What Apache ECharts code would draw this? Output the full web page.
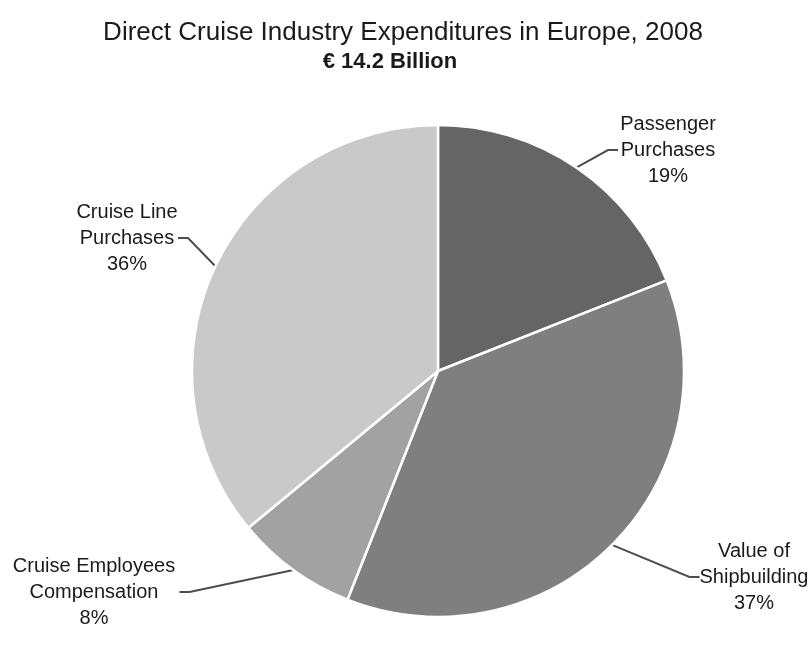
<!DOCTYPE html>
<html>
<head>
<meta charset="utf-8">
<script src="https://cdn.jsdelivr.net/npm/echarts@6/dist/echarts.min.js"></script>
<style>
  html, body { margin: 0; padding: 0; background: #ffffff; }
  #chart { width: 810px; height: 647px; }
</style>
</head>
<body>
<div id="chart"></div>
<script>
// ---- data ----
const categories = [
  'Passenger\nPurchases',
  'Value of\nShipbuilding',
  'Cruise Employees\nCompensation',
  'Cruise Line\nPurchases'
];
const shares = [19, 37, 8, 36]; // percent of total
const titleText = 'Direct Cruise Industry Expenditures in Europe, 2008';
const subtitleText = '€ 14.2 Billion';

// ---- styling / layout ----
const sliceColors = ['#656565', '#7f7f7f', '#a2a2a2', '#c8c9c8'];
// label block layout: [x, y, padTop, width]
const labelBoxes = [
  [668, 150, 0, 100],
  [754, 577, 38, 104],
  [94, 592, 40, 171],
  [127, 238, 0, 102]
];

const chart = echarts.init(document.getElementById('chart'), null, { renderer: 'canvas' });

const data = categories.map((name, i) => ({
  name: name,
  value: shares[i],
  itemStyle: { color: sliceColors[i] },
  label: {
    padding: [labelBoxes[i][2], 0, 0, 0],
    width: labelBoxes[i][3]
  }
}));

chart.setOption({
  backgroundColor: '#ffffff',
  animation: false,
  title: [
    {
      text: titleText,
      left: 403,
      top: 18,
      textAlign: 'center',
      padding: 0,
      textStyle: {
        fontFamily: 'Liberation Sans, Arial, sans-serif',
        fontWeight: 'normal',
        fontSize: 26,
        lineHeight: 30,
        color: '#1a1a1a'
      }
    },
    {
      text: subtitleText,
      left: 390,
      top: 48,
      textAlign: 'center',
      padding: 0,
      textStyle: {
        fontFamily: 'Liberation Sans, Arial, sans-serif',
        fontWeight: 'bold',
        fontSize: 22,
        lineHeight: 28,
        color: '#1a1a1a'
      }
    }
  ],
  series: [
    {
      type: 'pie',
      center: [438, 371],
      radius: [0, 246],
      startAngle: 90,
      clockwise: true,
      avoidLabelOverlap: false,
      itemStyle: {
        borderColor: '#ffffff',
        borderWidth: 2.5
      },
      label: {
        show: true,
        position: 'outside',
        formatter: (p) => p.name + '\n' + p.value + '%',
        fontFamily: 'Liberation Sans, Arial, sans-serif',
        fontSize: 20,
        lineHeight: 26,
        color: '#1a1a1a',
        overflow: 'none'
      },
      labelLine: {
        show: true,
        length: 10,
        length2: 10,
        lineStyle: { color: '#4d4d4d', width: 2 }
      },
      labelLayout: function (p) {
        const b = labelBoxes[p.dataIndex];
        return { x: b[0], y: b[1], align: 'center', verticalAlign: 'middle' };
      },
      emphasis: { disabled: true },
      data: data
    }
  ]
});
</script>
</body>
</html>
